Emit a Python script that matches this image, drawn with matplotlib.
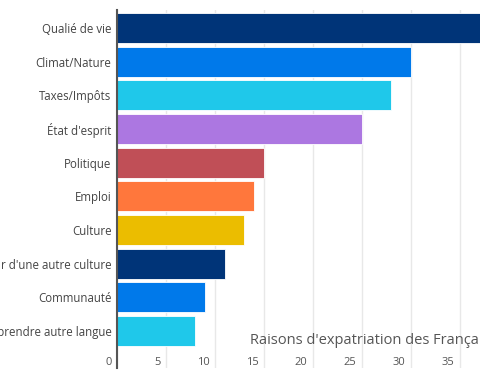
import matplotlib.pyplot as plt
from matplotlib.transforms import ScaledTranslation

plt.rcParams['font.family'] = ['Open Sans', 'DejaVu Sans']

categories = ["Qualié de vie", "Climat/Nature", "Taxes/Impôts", "État d'esprit",
              "Politique", "Emploi", "Culture", "Saveur d'une autre culture",
              "Communauté", "Apprendre autre langue"]
values = [40, 30, 28, 25, 15, 14, 13, 11, 9, 8]
colors = ["#003478", "#0079ea", "#1fc8ea", "#ac77e1", "#c04f57",
          "#ff773c", "#ebbd00", "#003478", "#0079ea", "#1fc8ea"]
xticks = [0, 5, 10, 15, 20, 25, 30, 35]
title = "Raisons d'expatriation des Français"

fig = plt.figure(figsize=(4.8, 3.8), dpi=100)
ax = fig.add_axes([117 / 480, 12 / 380, 1 - 117 / 480, 358 / 380])

ys = list(range(len(categories)))
ax.barh(ys, values, height=0.89, color=colors, edgecolor="white", linewidth=0.6, zorder=2)

ax.set_xlim(0, 37.05)
ax.set_ylim(10.1, -0.53)
ax.set_yticks(ys)
ax.set_yticklabels(categories, fontsize=8.3, color="#444444")
ax.tick_params(axis="y", length=0, pad=4)

ax.set_xticks(xticks)
ax.set_xticklabels([str(t) for t in xticks], fontsize=8, color="#555555")
ax.tick_params(axis="x", length=0, pad=-8)
for lab in ax.get_xticklabels():
    lab.set_horizontalalignment("right")
    lab.set_transform(lab.get_transform() + ScaledTranslation(-4 / 72, 0, fig.dpi_scale_trans))

ax.grid(axis="x", color="#e8e8e8", linewidth=1, zorder=0)
ax.set_axisbelow(True)
for s in ["top", "right", "bottom"]:
    ax.spines[s].set_visible(False)
ax.spines["left"].set_color("#555555")
ax.spines["left"].set_linewidth(1.5)

fig.text(250 / 480, 1 - 340 / 380, title, fontsize=10.5, color="#555555",
         ha="left", va="center")

fig.savefig("out.png", dpi=100)
